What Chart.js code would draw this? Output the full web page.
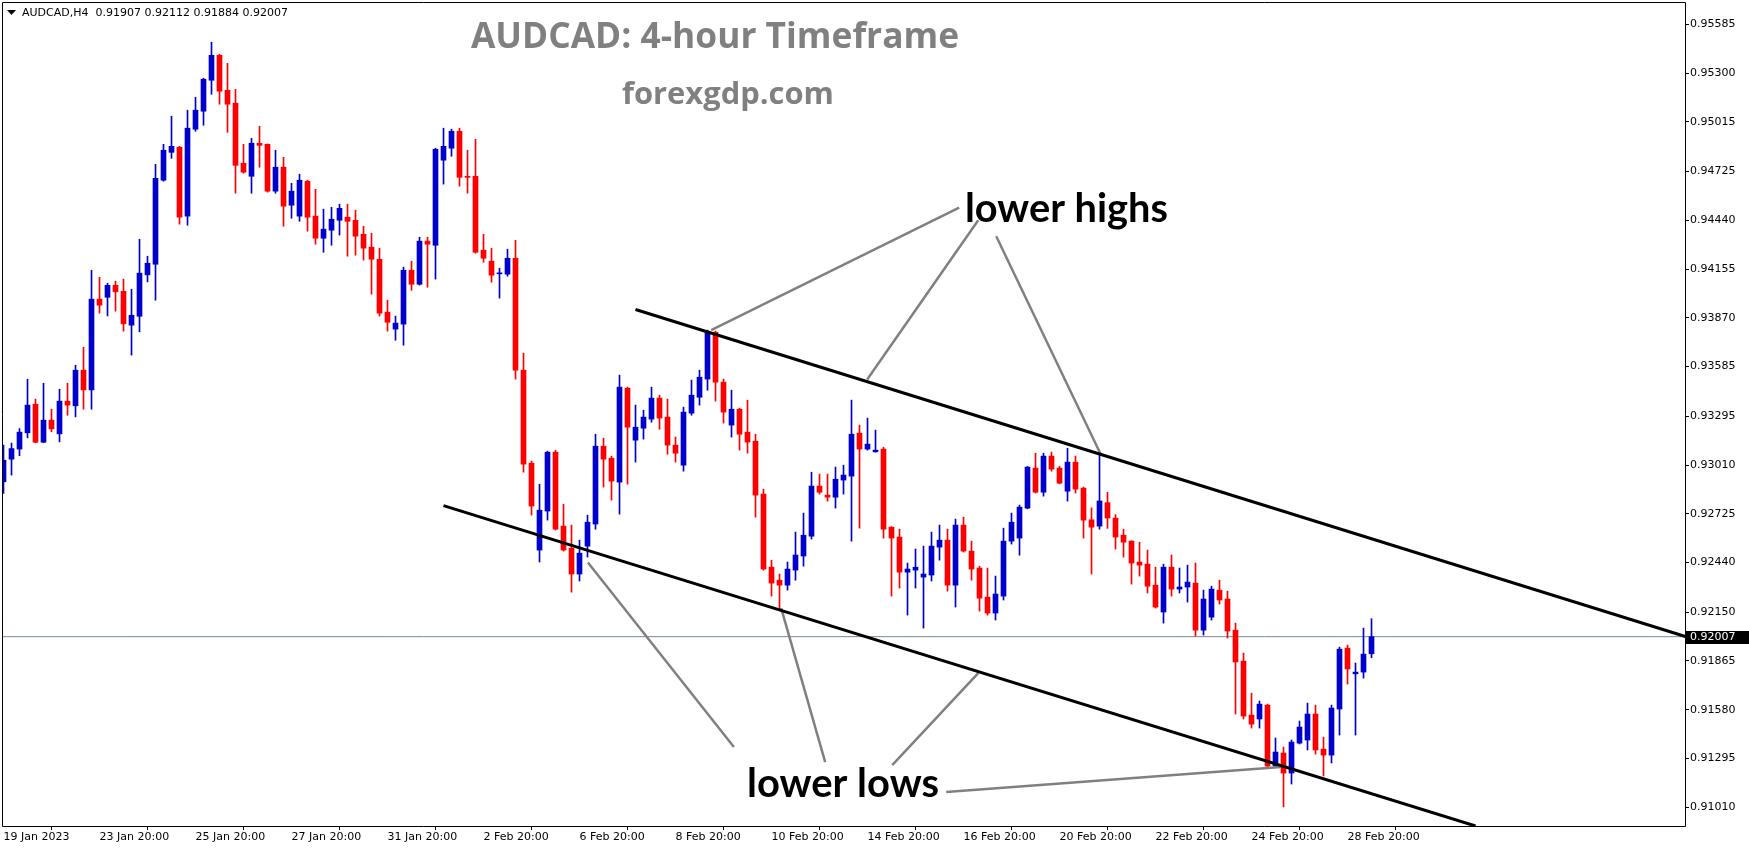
<!DOCTYPE html>
<html><head><meta charset="utf-8">
<script src="https://cdn.jsdelivr.net/npm/chart.js@4/dist/chart.umd.min.js"></script>
<style>html,body{margin:0;padding:0;background:#fff;overflow:hidden}</style>
</head><body>
<canvas id="c" width="1749" height="850"></canvas>
<script>
const opens = [.92912,.93044,.93103,.93198,.93365,.93143,.93272,.93192,.93383,.93356,.93564,.93449,.93979,.93990,.94060,.94025,.93827,.93879,.94121,.94183,.94674,.94837,.94867,.94464,.94972,.95077,.95258,.95404,.95199,.95124,.94773,.94697,.94890,.94884,.94610,.94750,.94528,.94464,.94668,.94464,.94335,.94382,.94440,.94458,.94440,.94358,.94283,.94212,.93903,.93804,.93833,.94148,.94066,.94318,.94294,.94791,.94861,.94960,.94697,.94697,.94265,.94201,.94127,.94125,.94218,.93564,.93021,.92513,.92741,.93085,.92653,.92524,.92373,.92536,.92665,.93120,.93050,.92910,.93459,.93155,.93225,.93278,.93401,.93290,.93126,.93009,.93313,.93406,.93512,.93786,.93494,.93243,.93336,.93202,.93149,.92840,.92413,.92337,.92308,.92396,.92478,.92594,.92887,.92834,.92822,.92922,.92945,.93196,.93103,.93087,.93103,.92647,.92589,.92384,.92396,.92355,.92367,.92530,.92571,.92308,.92659,.92507,.92408,.92238,.92145,.92244,.92565,.92583,.92758,.92992,.92851,.93062,.92992,.92857,.93027,.92875,.92690,.92653,.92790,.92700,.92600,.92565,.92443,.92431,.92308,.92151,.92413,.92285,.92297,.92320,.92045,.92121,.92279,.92227,.92045,.91864,.91549,.91526,.91607,.91251,.91327,.91210,.91385,.91403,.91555,.91350,.91315,.91584,.91940,.91790,.91800,.91907];
const highs = [.93126,.93138,.93223,.93511,.93395,.93488,.93336,.93453,.93488,.93593,.93698,.94148,.94107,.94072,.94084,.94096,.94037,.94329,.94230,.94767,.94884,.95048,.94872,.95083,.95159,.95270,.95480,.95410,.95357,.95205,.94884,.94919,.94989,.94886,.94849,.94808,.94656,.94709,.94674,.94621,.94505,.94516,.94534,.94534,.94499,.94405,.94364,.94277,.93973,.93880,.94166,.94201,.94341,.94341,.94861,.94978,.94972,.94978,.94849,.94913,.94358,.94277,.94160,.94271,.94323,.93663,.93033,.92898,.93091,.93097,.92781,.92659,.92571,.92717,.93190,.93167,.93062,.93535,.93465,.93360,.93330,.93465,.93418,.93395,.93173,.93348,.93506,.93564,.93798,.93792,.93512,.93447,.93342,.93389,.93190,.92869,.92454,.92373,.92443,.92618,.92729,.92968,.92957,.92957,.92998,.93009,.93389,.93243,.93284,.93214,.93114,.92650,.92635,.92437,.92519,.92536,.92618,.92659,.92635,.92694,.92705,.92565,.92419,.92408,.92361,.92641,.92729,.92776,.93001,.93079,.93079,.93085,.93003,.93108,.93062,.92881,.92760,.93070,.92850,.92720,.92635,.92568,.92559,.92513,.92413,.92431,.92484,.92408,.92425,.92437,.92279,.92302,.92337,.92273,.92086,.91911,.91677,.91631,.91613,.91415,.91362,.91403,.91514,.91619,.91607,.91420,.91607,.91946,.91958,.91853,.92057,.92112];
const lows = [.92844,.92951,.93064,.93169,.93140,.93140,.93204,.93145,.93301,.93291,.93336,.93336,.93897,.93881,.93909,.93792,.93652,.93788,.94080,.93973,.94668,.94802,.94417,.94411,.94960,.94995,.95176,.95118,.94954,.94598,.94715,.94598,.94750,.94604,.94598,.94405,.94452,.94434,.94376,.94300,.94253,.94294,.94353,.94230,.94236,.94207,.94008,.93880,.93792,.93739,.93710,.94031,.94061,.94049,.94096,.94651,.94814,.94639,.94598,.94247,.94195,.94078,.93985,.94113,.93512,.92968,.92717,.92443,.92688,.92630,.92507,.92267,.92332,.92472,.92635,.92881,.92805,.92723,.92898,.93027,.93161,.93260,.93219,.93073,.93027,.92974,.93301,.93360,.93447,.93383,.93255,.93173,.93097,.93079,.92705,.92396,.92244,.92162,.92279,.92337,.92419,.92577,.92840,.92799,.92758,.92840,.92565,.92641,.93097,.93085,.92583,.92244,.92291,.92133,.92291,.92057,.92332,.92454,.92273,.92180,.92501,.92337,.92156,.92133,.92104,.92221,.92548,.92483,.92754,.92846,.92828,.92974,.92900,.92799,.92846,.92583,.92373,.92635,.92640,.92519,.92472,.92314,.92361,.92262,.92174,.92086,.92244,.92262,.92209,.92010,.92016,.92104,.92197,.91999,.91555,.91526,.91473,.91473,.91245,.91245,.91012,.91146,.91380,.91345,.91321,.91193,.91269,.91432,.91730,.91432,.91765,.91884];
const closes = [.93038,.93106,.93202,.93360,.93143,.93272,.93221,.93383,.93360,.93564,.93449,.93979,.93944,.94060,.94022,.93835,.93885,.94131,.94189,.94685,.94849,.94872,.94458,.94978,.95083,.95264,.95404,.95194,.95118,.94761,.94721,.94890,.94878,.94610,.94750,.94522,.94610,.94674,.94458,.94335,.94388,.94446,.94510,.94434,.94347,.94277,.94212,.93897,.93844,.93839,.94148,.94066,.94318,.94300,.94855,.94872,.94960,.94691,.94691,.94253,.94218,.94119,.94131,.94218,.93564,.93015,.92770,.92746,.93085,.92635,.92513,.92373,.92495,.92676,.93120,.93044,.92916,.93465,.93231,.93231,.93290,.93401,.93284,.93126,.93079,.93319,.93418,.93523,.93786,.93494,.93319,.93336,.93190,.93144,.92834,.92402,.92320,.92308,.92402,.92484,.92600,.92887,.92851,.92822,.92927,.92951,.93190,.93103,.93132,.93097,.92635,.92583,.92384,.92402,.92413,.92373,.92536,.92571,.92308,.92659,.92507,.92402,.92232,.92145,.92256,.92565,.92676,.92764,.92998,.92851,.93062,.92986,.92904,.93027,.92869,.92688,.92647,.92800,.92700,.92589,.92559,.92437,.92425,.92302,.92180,.92413,.92285,.92297,.92326,.92045,.92227,.92285,.92221,.92040,.91859,.91543,.91496,.91613,.91251,.91333,.91210,.91391,.91479,.91555,.91345,.91315,.91590,.91934,.91818,.91800,.91905,.92007];

const xTickBars = [0,12,24,36,48,60,72,84,96,108,120,132,144,156,168];
const xTickLabels = ['19 Jan 2023','23 Jan 20:00','25 Jan 20:00','27 Jan 20:00','31 Jan 20:00','2 Feb 20:00','6 Feb 20:00','8 Feb 20:00','10 Feb 20:00','14 Feb 20:00','16 Feb 20:00','20 Feb 20:00','22 Feb 20:00','24 Feb 20:00','28 Feb 20:00'];
const yTickValues = [0.95585,0.95300,0.95015,0.94725,0.94440,0.94155,0.93870,0.93585,0.93295,0.93010,0.92725,0.92440,0.92150,0.91865,0.91580,0.91295,0.91010];
const yTickLabels = ['0.95585','0.95300','0.95015','0.94725','0.94440','0.94155','0.93870','0.93585','0.93295','0.93010','0.92725','0.92440','0.92150','0.91865','0.91580','0.91295','0.91010'];
const currentPrice = 0.92007;
const headerText = 'AUDCAD,H4  0.91907 0.92112 0.91884 0.92007';

// channel lines [barIndex, price]
const upperChannel = [[79.0, 0.939186], [210.3, 0.92007]];
const lowerChannel = [[55.0, 0.927726], [184.0, 0.909008]];
// annotation pointer segments [barIndex, price] pairs
const highPointers = [
  [[119.46, 0.945132], [88.46, 0.937977]],
  [[121.84, 0.944402], [107.96, 0.935097]],
  [[124.09, 0.943467], [137.21, 0.930675]]
];
const lowPointers = [
  [[91.3, 0.913620], [73.05, 0.924408]],
  [[102.71, 0.912743], [97.21, 0.921739]],
  [[111.09, 0.912568], [121.84, 0.917942]],
  [[117.84, 0.910991], [159.71, 0.912451]]
];

const BLUE = '#0000CD', RED = '#FF0000';
const n = opens.length;
const idx = Array.from({length: n}, (_, i) => i);
const colors = idx.map(i => closes[i] >= opens[i] ? BLUE : RED);
const wickData = idx.map(i => ({x: i, y: [lows[i], highs[i]]}));
const bodyData = idx.map(i => ({x: i, y: [Math.min(opens[i], closes[i]), Math.max(opens[i], closes[i])]}));
const toPts = arr => arr.map(p => ({x: p[0], y: p[1]}));
const segs = list => { const out = []; list.forEach(s => { out.push({x: s[0][0], y: s[0][1]}, {x: s[1][0], y: s[1][1]}, {x: s[1][0], y: null}); }); return out; };

const X_MIN = -0.0625, X_MAX = 210.1875;
const Y_MIN = 0.909008, Y_MAX = 0.957094;

const overlay = {
  id: 'overlay',
  afterDraw(chart) {
    const ctx = chart.ctx, a = chart.chartArea;
    const ys = chart.scales.y;
    ctx.save();
    // frame
    ctx.strokeStyle = '#000'; ctx.lineWidth = 1;
    ctx.beginPath();
    ctx.moveTo(Math.floor(a.left) - 0.5, Math.floor(a.top) - 0.5);
    ctx.lineTo(Math.round(a.right) + 0.5, Math.floor(a.top) - 0.5);
    ctx.lineTo(Math.round(a.right) + 0.5, Math.round(a.bottom) + 0.5);
    ctx.lineTo(Math.floor(a.left) - 0.5, Math.round(a.bottom) + 0.5);
    ctx.closePath(); ctx.stroke();
    // header
    ctx.fillStyle = '#000';
    ctx.beginPath(); ctx.moveTo(7, 10); ctx.lineTo(16, 10); ctx.lineTo(11.5, 15); ctx.closePath(); ctx.fill();
    ctx.font = '11px "DejaVu Sans"';
    ctx.textBaseline = 'middle'; ctx.textAlign = 'left';
    ctx.fillText(headerText, 22, 13);
    // fitted texts
    const fitText = (txt, family, color, left, right, baseline) => {
      ctx.font = 'bold 40px ' + family;
      const w = ctx.measureText(txt).width;
      const size = 40 * (right - left) / w;
      ctx.font = 'bold ' + size.toFixed(2) + 'px ' + family;
      ctx.fillStyle = color; ctx.textAlign = 'left'; ctx.textBaseline = 'alphabetic';
      ctx.fillText(txt, left, baseline);
    };
    fitText('AUDCAD: 4-hour Timeframe', '"Open Sans"', '#808080', 471, 959, 48);
    fitText('forexgdp.com', '"Open Sans"', '#808080', 622, 834, 104);
    fitText('lower highs', 'Lato', '#000', 965, 1168, 222);
    fitText('lower lows', 'Lato', '#000', 747, 939, 797);
    // current price tag
    const py = Math.round(ys.getPixelForValue(currentPrice));
    ctx.fillStyle = '#000';
    ctx.fillRect(Math.round(a.right) + 1, py - 6, chart.width - Math.round(a.right) - 1, 13);
    ctx.fillStyle = '#fff'; ctx.font = '11px "DejaVu Sans"'; ctx.textBaseline = 'middle'; ctx.textAlign = 'left';
    ctx.fillText('0.92007', Math.round(a.right) + 5, py + 0.5);
    ctx.restore();
  }
};

new Chart(document.getElementById('c'), {
  type: 'bar',
  data: {
    datasets: [
      {type: 'line', data: toPts(upperChannel), borderColor: '#000', borderWidth: 3, pointRadius: 0, fill: false, order: 0},
      {type: 'line', data: toPts(lowerChannel), borderColor: '#000', borderWidth: 3, pointRadius: 0, fill: false, order: 0},
      {type: 'line', data: segs(highPointers), borderColor: '#808080', borderWidth: 2.5, pointRadius: 0, fill: false, spanGaps: false, order: 0},
      {type: 'line', data: segs(lowPointers), borderColor: '#808080', borderWidth: 2.5, pointRadius: 0, fill: false, spanGaps: false, order: 0},
      {type: 'line', data: [{x: X_MIN, y: currentPrice}, {x: X_MAX, y: currentPrice}], borderColor: '#778899', borderWidth: 1, pointRadius: 0, fill: false, order: 8},
      {data: wickData, backgroundColor: colors, borderWidth: 0, barThickness: 1, grouped: false, order: 6},
      {data: bodyData, backgroundColor: colors, borderWidth: 0, barThickness: 5, minBarLength: 1, grouped: false, order: 5}
    ]
  },
  options: {
    responsive: false, animation: false, devicePixelRatio: 1,
    layout: {padding: {left: 3, top: 3, right: 0, bottom: 0}},
    plugins: {legend: {display: false}, tooltip: {enabled: false}, title: {display: false}},
    scales: {
      x: {
        type: 'linear', min: X_MIN, max: X_MAX, offset: false, bounds: 'data',
        grid: {drawOnChartArea: false, drawTicks: true, tickLength: 4, tickColor: '#000'},
        border: {display: false},
        ticks: {autoSkip: false, maxRotation: 0, minRotation: 0, align: 'start', padding: 1, color: '#000',
          font: {family: 'DejaVu Sans', size: 11}, callback: (v, i) => xTickLabels[i]},
        afterBuildTicks: s => { s.ticks = xTickBars.map(v => ({value: v})); },
        afterFit: s => { s.height = 24; s.paddingLeft = 0; s.paddingRight = 0; s.paddingTop = 0; s.paddingBottom = 0; }
      },
      y: {
        type: 'linear', position: 'right', min: Y_MIN, max: Y_MAX, bounds: 'data',
        grid: {drawOnChartArea: false, drawTicks: true, tickLength: 4, tickColor: '#000'},
        border: {display: false},
        ticks: {autoSkip: false, padding: 1, color: '#000', font: {family: 'DejaVu Sans', size: 11},
          callback: (v, i) => yTickLabels[i]},
        afterBuildTicks: s => { s.ticks = yTickValues.map(v => ({value: v})); },
        afterFit: s => { s.width = 64; s.paddingLeft = 0; s.paddingRight = 0; s.paddingTop = 0; s.paddingBottom = 0; }
      }
    }
  },
  plugins: [overlay]
});
</script>
</body></html>
